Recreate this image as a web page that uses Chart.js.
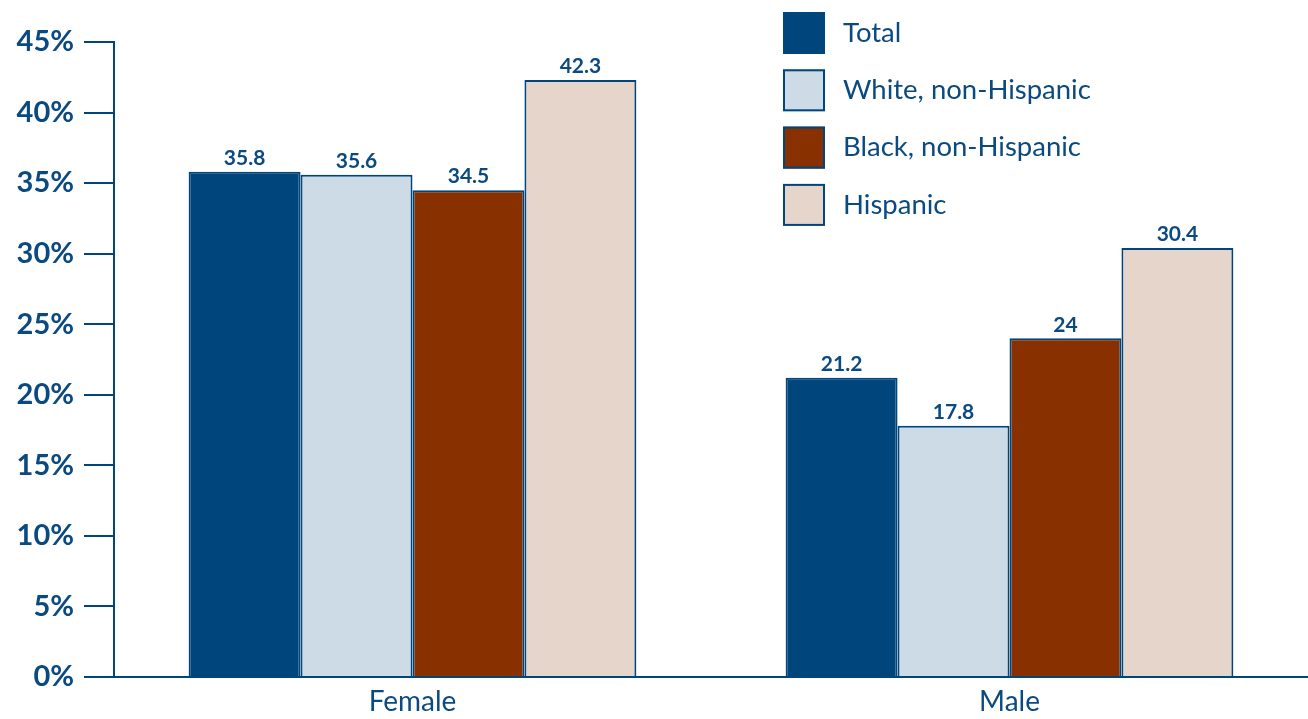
<!DOCTYPE html>
<html>
<head>
<meta charset="utf-8">
<script src="https://cdn.jsdelivr.net/npm/chart.js@4"></script>
<style>
html,body{margin:0;padding:0;background:#fff;}
#wrap{width:1308px;height:719px;position:relative;}
</style>
</head>
<body>
<div id="wrap"><canvas id="c" width="1308" height="719"></canvas></div>
<script>
const categories = ["Female", "Male"];
const seriesNames = ["Total", "White, non-Hispanic", "Black, non-Hispanic", "Hispanic"];
const totalValues = [35.8, 21.2];
const whiteValues = [35.6, 17.8];
const blackValues = [34.5, 24];
const hispanicValues = [42.3, 30.4];
const yTicks = [0, 5, 10, 15, 20, 25, 30, 35, 40, 45];

const navy = "#00457c";
const textCol = "#0b4a80";
const fills = ["#00457c", "#cddbe6", "#883000", "#e6d5cb"];
const FONT = "Lato, 'Open Sans', sans-serif";

const valueLabels = {
  id: "valueLabels",
  afterDatasetsDraw(chart) {
    const ctx = chart.ctx;
    ctx.save();
    ctx.font = "bold 21px " + FONT;
    ctx.fillStyle = textCol;
    ctx.textAlign = "center";
    ctx.textBaseline = "bottom";
    chart.data.datasets.forEach((ds, i) => {
      const meta = chart.getDatasetMeta(i);
      meta.data.forEach((bar, j) => {
        ctx.fillText(String(ds.data[j]), bar.x, bar.y - 3);
      });
    });
    ctx.restore();
  }
};

const customLegend = {
  id: "customLegend",
  afterDraw(chart) {
    const ctx = chart.ctx;
    ctx.save();
    const x0 = 783, y0 = 12, box = 42, gap = 57.3;
    chart.data.datasets.forEach((ds, i) => {
      const y = y0 + i * gap;
      ctx.fillStyle = ds.backgroundColor;
      ctx.fillRect(x0, y, box, box);
      ctx.strokeStyle = navy;
      ctx.lineWidth = 2;
      ctx.strokeRect(x0 + 1, y + 1, box - 2, box - 2);
      ctx.fillStyle = textCol;
      ctx.font = "27.5px " + FONT;
      ctx.textAlign = "left";
      ctx.textBaseline = "middle";
      ctx.fillText(ds.label, 843, y + box / 2);
    });
    ctx.restore();
  }
};

const mk = (i, data) => ({
  label: seriesNames[i],
  data: data,
  backgroundColor: fills[i],
  borderColor: navy,
  borderWidth: 2,
  categoryPercentage: 0.75,
  barPercentage: 1.0
});

new Chart(document.getElementById("c"), {
  type: "bar",
  data: {
    labels: categories,
    datasets: [mk(0, totalValues), mk(1, whiteValues), mk(2, blackValues), mk(3, hispanicValues)]
  },
  options: {
    responsive: false,
    animation: false,
    devicePixelRatio: 1,
    layout: { padding: { top: 42, left: 0, right: 0, bottom: 0 } },
    plugins: { legend: { display: false }, tooltip: { enabled: false } },
    scales: {
      x: {
        grid: { display: false, drawTicks: false },
        border: { color: navy, width: 2 },
        ticks: { color: textCol, font: { family: FONT, size: 28 }, padding: 8 },
        afterFit(s) { s.height = 42; }
      },
      y: {
        min: 0, max: 45,
        afterBuildTicks(s) { s.ticks = yTicks.map(v => ({ value: v })); },
        grid: { drawOnChartArea: false, drawTicks: true, tickLength: 30, color: navy, lineWidth: 2 },
        border: { color: navy, width: 2 },
        ticks: {
          color: textCol,
          font: { family: FONT, size: 29, weight: "bold" },
          padding: 10,
          callback: v => v + "%"
        },
        afterFit(s) { s.width = 114; }
      }
    }
  },
  plugins: [valueLabels, customLegend]
});
</script>
</body>
</html>
